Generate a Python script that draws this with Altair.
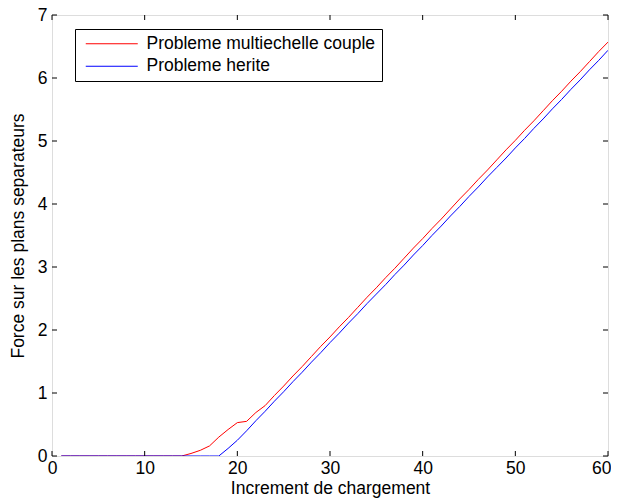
import altair as alt
import pandas as pd

increments = list(range(1, 61))
couple = [0, 0, 0, 0, 0, 0, 0, 0, 0, 0, 0, 0, 0, 0, 0.04, 0.09, 0.16, 0.30, 0.42, 0.53,
          0.55, 0.69, 0.80, 0.96, 1.11, 1.27, 1.42, 1.58, 1.74, 1.89, 2.05, 2.20, 2.36, 2.52,
          2.67, 2.83, 2.98, 3.14, 3.30, 3.45, 3.61, 3.76, 3.92, 4.08, 4.23, 4.39, 4.54, 4.70,
          4.86, 5.01, 5.17, 5.32, 5.48, 5.64, 5.79, 5.95, 6.10, 6.26, 6.42, 6.57]
herite = [0, 0, 0, 0, 0, 0, 0, 0, 0, 0, 0, 0, 0, 0, 0, 0, 0, 0, 0.12, 0.25,
          0.40, 0.56, 0.71, 0.87, 1.02, 1.18, 1.33, 1.49, 1.64, 1.80, 1.95, 2.11, 2.26, 2.42,
          2.57, 2.72, 2.88, 3.03, 3.19, 3.34, 3.50, 3.65, 3.81, 3.96, 4.12, 4.27, 4.43, 4.58,
          4.73, 4.89, 5.04, 5.20, 5.35, 5.51, 5.66, 5.82, 5.97, 6.13, 6.28, 6.44]
series_names = ["Probleme multiechelle couple", "Probleme herite"]
x_ticks = [0, 10, 20, 30, 40, 50, 60]
y_ticks = [0, 1, 2, 3, 4, 5, 6, 7]

W, H = 556, 441
FONT = "Liberation Sans"
FS = 17.5

df = pd.concat([
    pd.DataFrame({"x": increments, "y": couple, "s": series_names[0]}),
    pd.DataFrame({"x": increments, "y": herite, "s": series_names[1]}),
])

xs = alt.Scale(domain=[0, 60], nice=False, zero=False)
ys = alt.Scale(domain=[0, 7], nice=False, zero=False)

lines = alt.Chart(df).mark_line(strokeWidth=1, clip=True).encode(
    x=alt.X("x:Q", scale=xs, axis=alt.Axis(values=x_ticks, title="Increment de chargement",
            format="d", grid=False, ticks=False, domain=False, labelFlush=False,
            labelAlign={"condition": {"test": "datum.value == 60", "value": "right"},
                        "value": "center"},
            labelOffset={"condition": {"test": "datum.value == 60", "value": 3},
                         "value": 0},
            labelPadding=3, titlePadding=3,
            labelFontSize=FS, titleFontSize=FS, labelFont=FONT, titleFont=FONT,
            titleFontWeight="normal", labelColor="black", titleColor="black")),
    y=alt.Y("y:Q", scale=ys, axis=alt.Axis(values=y_ticks, title="Force sur les plans separateurs",
            format="d", grid=False, ticks=False, domain=False, labelFlush=False,
            labelPadding=5, titlePadding=10,
            labelFontSize=FS, titleFontSize=FS, labelFont=FONT, titleFont=FONT,
            titleFontWeight="normal", labelColor="black", titleColor="black")),
    color=alt.Color("s:N", sort=series_names,
                    scale=alt.Scale(domain=series_names, range=["#ff0000", "#0000ff"]),
                    legend=alt.Legend(title=None, orient="none", legendX=23, legendY=14,
                                      fillColor="white", strokeColor="black", padding=6,
                                      symbolType="M-0.8,0H9.6", symbolSize=100,
                                      symbolStrokeWidth=1, symbolFillColor="transparent",
                                      labelFontSize=FS, labelFont=FONT, labelColor="black",
                                      labelLimit=0, rowPadding=3.5, labelOffset=48)),
)

xt = pd.DataFrame({"x": x_ticks})
yt = pd.DataFrame({"y": y_ticks})
tick_bottom = alt.Chart(xt).mark_rule(color="black", strokeWidth=1).encode(
    x=alt.X("x:Q", scale=xs), y=alt.value(H), y2=alt.value(H - 5))
tick_top = alt.Chart(xt).mark_rule(color="black", strokeWidth=1).encode(
    x=alt.X("x:Q", scale=xs), y=alt.value(0), y2=alt.value(5))
tick_left = alt.Chart(yt).mark_rule(color="black", strokeWidth=1).encode(
    y=alt.Y("y:Q", scale=ys), x=alt.value(0), x2=alt.value(5))
tick_right = alt.Chart(yt).mark_rule(color="black", strokeWidth=1).encode(
    y=alt.Y("y:Q", scale=ys), x=alt.value(W), x2=alt.value(W - 5))

chart = alt.layer(lines, tick_bottom, tick_top, tick_left, tick_right).properties(
    width=W, height=H,
    autosize=alt.AutoSizeParams(type="none"),
    padding={"left": 44, "top": 7, "right": 3, "bottom": 42},
).configure_view(stroke="black", strokeWidth=1).configure(background="white")

chart.save("out.html", embed_options={"renderer": "svg", "actions": False})
